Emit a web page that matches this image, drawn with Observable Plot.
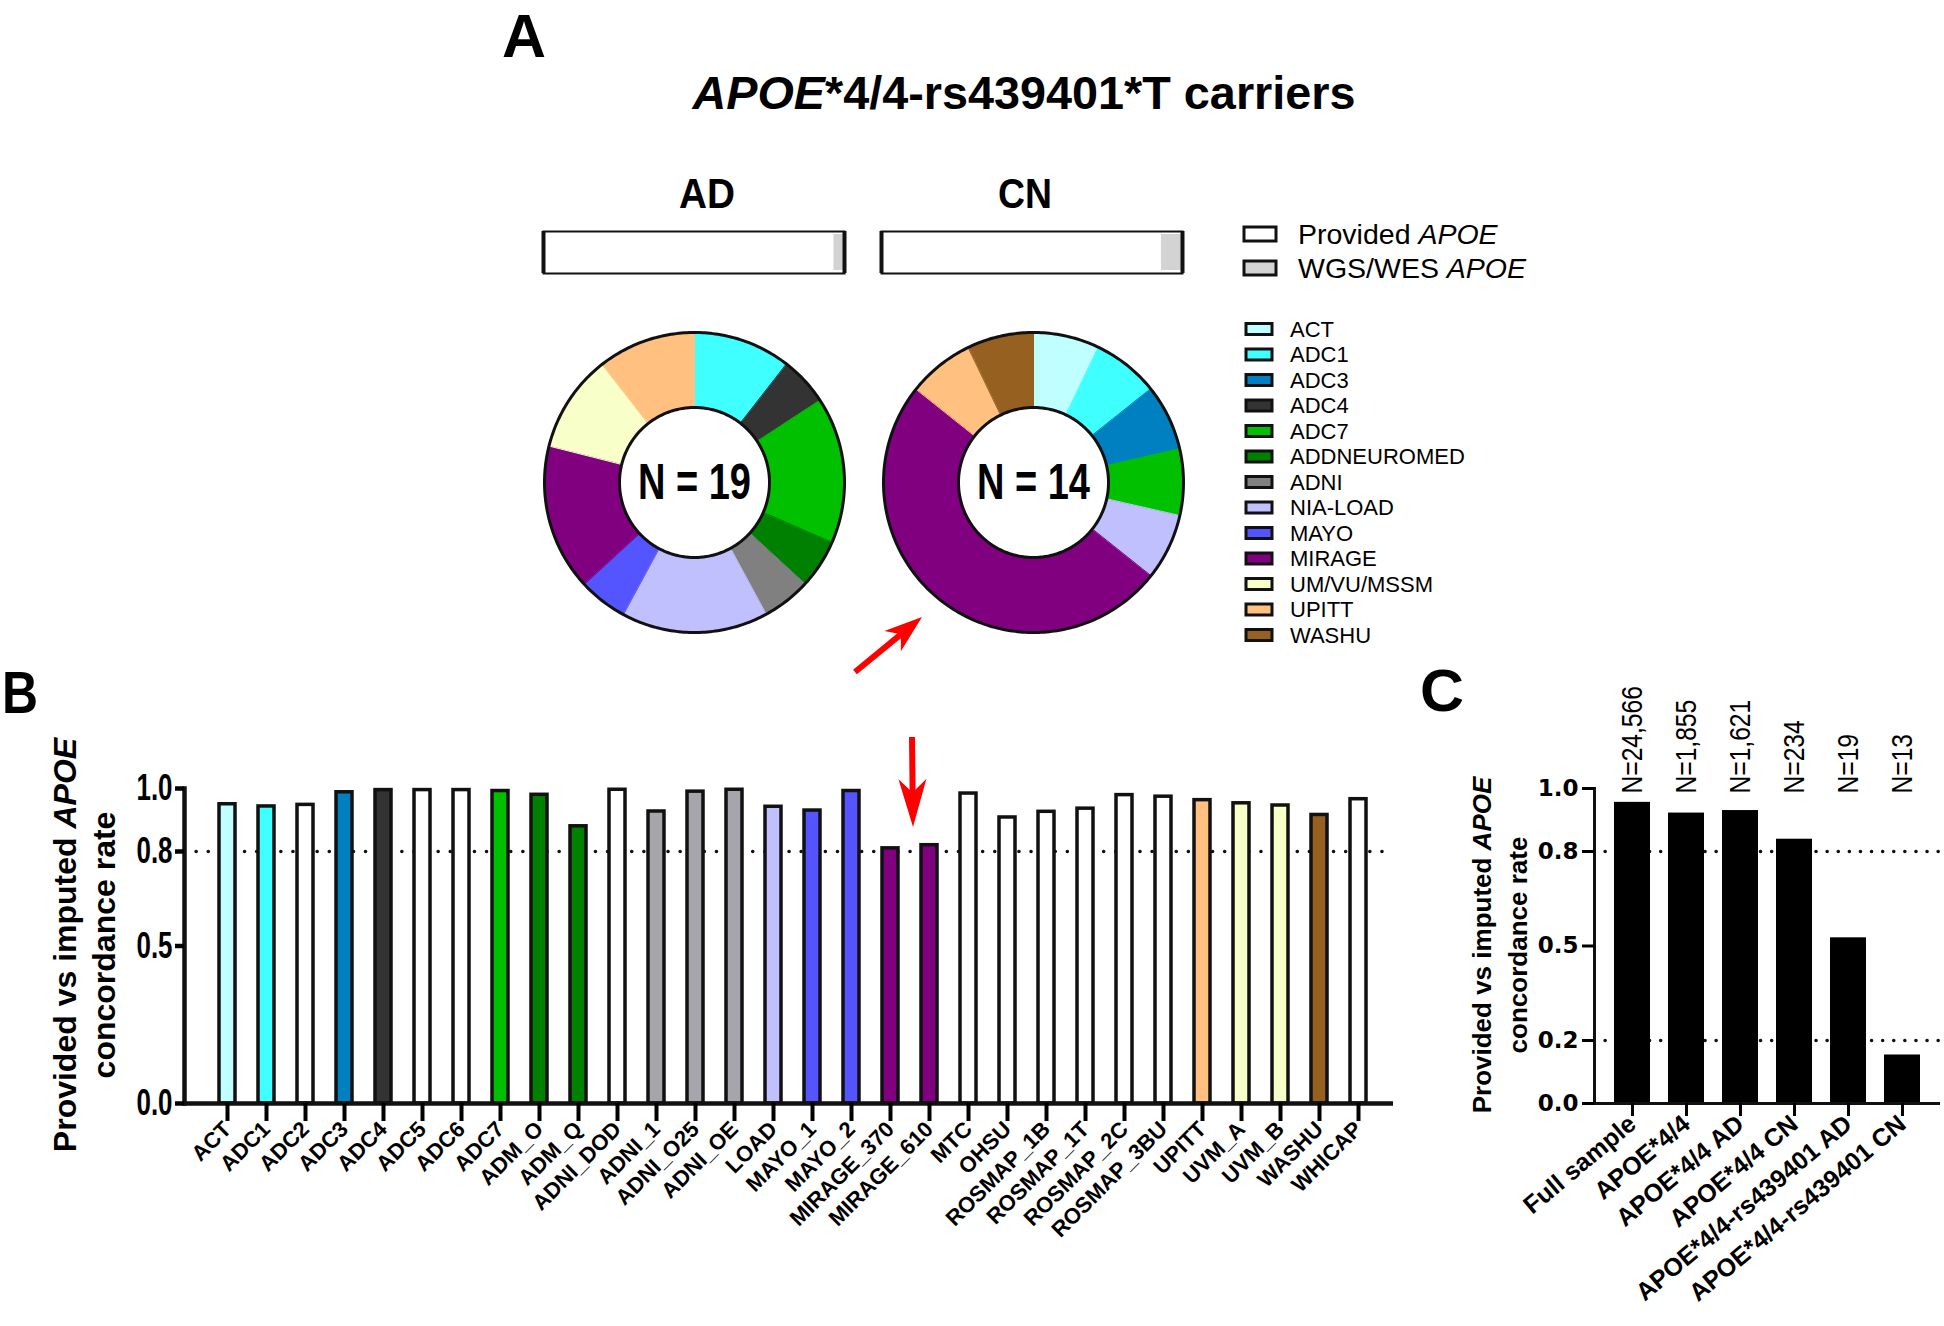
<!DOCTYPE html>
<html><head><meta charset="utf-8">
<script src="https://cdn.jsdelivr.net/npm/d3@7"></script>
<script src="https://cdn.jsdelivr.net/npm/@observablehq/plot@0.6"></script>
<style>
body{margin:0;background:#fff;}
#root{position:relative;width:1944px;height:1326px;overflow:hidden;background:#fff;font-family:"Liberation Sans",Arial,sans-serif;}
</style></head><body><div id="root"></div><script>
// ---------------- data ----------------
const cohorts = ["ACT","ADC1","ADC3","ADC4","ADC7","ADDNEUROMED","ADNI","NIA-LOAD","MAYO","MIRAGE","UM/VU/MSSM","UPITT","WASHU"];
const cohortColors = ["#c0ffff","#40ffff","#0080c0","#333333","#00c000","#008000","#808080","#c0c0ff","#5555ff","#800080","#f8ffc8","#ffc080","#956020"];
const adCounts = [0,2,0,1,3,1,1,3,1,3,2,2,0];
const cnCounts = [1,1,1,0,1,0,0,1,0,7,0,1,1];
const adN = "N = 19";
const cnN = "N = 14";

const sourceLabels = ["Provided APOE","WGS/WES APOE"];
const sourceColors = ["#ffffff","#d3d3d3"];
const adSourceShare = [0.965,0.035];
const cnSourceShare = [0.93,0.07];

const datasets = ["ACT","ADC1","ADC2","ADC3","ADC4","ADC5","ADC6","ADC7","ADM_O","ADM_Q","ADNI_DOD","ADNI_1","ADNI_O25","ADNI_OE","LOAD","MAYO_1","MAYO_2","MIRAGE_370","MIRAGE_610","MTC","OHSU","ROSMAP_1B","ROSMAP_1T","ROSMAP_2C","ROSMAP_3BU","UPITT","UVM_A","UVM_B","WASHU","WHICAP"];
const datasetRates = [0.950,0.943,0.948,0.988,0.995,0.995,0.995,0.992,0.980,0.880,0.996,0.927,0.990,0.996,0.942,0.930,0.992,0.810,0.820,0.984,0.908,0.926,0.936,0.979,0.974,0.963,0.953,0.946,0.916,0.966];
const datasetCohort = ["ACT","ADC1","none","ADC3","ADC4","none","none","ADC7","ADDNEUROMED","ADDNEUROMED","none","ADNI","ADNI","ADNI","NIA-LOAD","MAYO","MAYO","MIRAGE","MIRAGE","none","none","none","none","none","none","UPITT","UM/VU/MSSM","UM/VU/MSSM","WASHU","none"];
const bTicks = [0, 0.5, 0.8, 1.0];

const groups = ["Full sample","APOE*4/4","APOE*4/4 AD","APOE*4/4 CN","APOE*4/4-rs439401 AD","APOE*4/4-rs439401 CN"];
const groupRates = [0.956,0.922,0.930,0.839,0.526,0.154];
const groupN = ["N=24,566","N=1,855","N=1,621","N=234","N=19","N=13"];
const cTicks = [0, 0.2, 0.5, 0.8, 1.0];
const thresholds = [0.2, 0.8];

// ---------------- helpers ----------------
const SANS = '"Liberation Sans",Arial,sans-serif';
const root = document.getElementById("root");
function place(node, left, top){
  node.style.position = "absolute";
  node.style.left = left + "px";
  node.style.top = top + "px";
  root.appendChild(node);
  return node;
}
// horizontally condense text (emulates a narrow font face)
function condense(node, selector, factor){
  d3.select(node).selectAll(selector).each(function(){
    const w = this.getComputedTextLength();
    if (w > 0){ this.setAttribute("textLength", (w*factor).toFixed(1)); this.setAttribute("lengthAdjust","spacingAndGlyphs"); }
  });
}

// ---------------- source bars (AD / CN) ----------------
function sourceBar(shares){
  const data = sourceLabels.map((s,i)=>({source:s, share:shares[i]}));
  return Plot.plot({
    width: 311, height: 52, margin: 5,
    style: {background:"transparent", overflow:"visible"},
    x: {domain:[0,1], axis:null},
    color: {domain: sourceLabels, range: sourceColors},
    marks: [
      Plot.barX(data, {x:"share", fill:"source", insetTop:3, insetBottom:3}),
      Plot.frame({stroke:"#111", strokeWidth:2}),
      Plot.ruleX([0,1], {stroke:"#111", strokeWidth:4})
    ]
  });
}
place(sourceBar(adSourceShare), 538, 226);
place(sourceBar(cnSourceShare), 876, 226);

// ---------------- donuts ----------------
function donut(counts, label){
  const total = d3.sum(counts);
  const pts = [];
  let acc = 0;
  cohorts.forEach((c,i)=>{
    const n = counts[i]; if(!n) return;
    const a0 = acc/total*2*Math.PI, a1 = (acc+n)/total*2*Math.PI; acc += n;
    const steps = Math.max(8, Math.ceil((a1-a0)/0.02));
    for(let k=0;k<=steps;k++){const a=a0+(a1-a0)*k/steps; pts.push({cohort:c,x:Math.sin(a),y:Math.cos(a)});}
    for(let k=steps;k>=0;k--){const a=a0+(a1-a0)*k/steps; pts.push({cohort:c,x:0.5*Math.sin(a),y:0.5*Math.cos(a)});}
  });
  const rings = [];
  [1,0.5].forEach(r=>{ for(let k=0;k<360;k++){const a=k/360*2*Math.PI; rings.push({ring:r,x:r*Math.sin(a),y:r*Math.cos(a)});} });
  return Plot.plot({
    width: 310, height: 310, margin: 5,
    style: {background:"transparent", overflow:"visible"},
    x: {domain:[-1,1], axis:null},
    y: {domain:[-1,1], axis:null},
    color: {domain: cohorts, range: cohortColors},
    marks: [
      Plot.line(pts, {x:"x", y:"y", z:"cohort", fill:"cohort", stroke:"cohort", strokeWidth:1, curve:"linear-closed"}),
      Plot.line(rings, {x:"x", y:"y", z:"ring", stroke:"#111", strokeWidth:3, curve:"linear-closed"}),
      Plot.text([label], {x:()=>0, y:()=>0, text:d=>d, fontSize:50, fontWeight:"bold", fontFamily:SANS, fill:"#000"})
    ]
  });
}
[[adCounts, adN, 539],[cnCounts, cnN, 878]].forEach(([c,n,left])=>{
  const d = place(donut(c, n), left, 327);
  condense(d, 'g[aria-label="text"] text', 0.76);
});

// ---------------- panel B ----------------
const bData = datasets.map((d,i)=>({name:d, rate:datasetRates[i], cohort:datasetCohort[i]}));
const bPalette = cohortColors.map((c,i)=> cohorts[i]==="ADNI" ? "#a5a5ab" : c);
const bPlot = Plot.plot({
  width: 1420, height: 626, marginLeft: 184, marginRight: 27, marginTop: 88, marginBottom: 223,
  style: {background:"transparent", overflow:"visible", fontFamily: SANS},
  x: {domain: datasets, paddingInner: 0.592, paddingOuter: 0.716, align: 0.57, label: null},
  y: {domain: [0,1], label: null},
  color: {domain: [...cohorts, "none"], range: [...bPalette, "#ffffff"]},
  marks: [
    Plot.ruleY([0.8], {stroke:"#111", strokeWidth:3.5, strokeDasharray:"0.1 12", strokeLinecap:"round"}),
    Plot.barY(bData, {x:"name", y:"rate", fill:"cohort", stroke:"#111", strokeWidth:3.5}),
    Plot.frame({anchor:"left", stroke:"#111", strokeWidth:4.5}),
    Plot.ruleY([0], {stroke:"#111", strokeWidth:4.5}),
    Plot.axisY({ticks: bTicks, tickFormat: d3.format(".1f"), tickSize: 9, tickPadding: 3, fontSize: 36, fontWeight:"bold", fontFamily: SANS, strokeWidth: 4.5, label: null}),
    Plot.axisX({tickSize: 18, tickRotate: -45, fontSize: 22, fontWeight:"bold", strokeWidth: 4, tickPadding: 4, label: null})
  ]
});
place(bPlot, 0, 700);
condense(bPlot, 'g[aria-label="y-axis tick label"] text', 0.72);

// ---------------- panel C ----------------
const cData = groups.map((g,i)=>({group:g, rate:groupRates[i], n:groupN[i]}));
const cPlot = Plot.plot({
  width: 524, height: 626, marginLeft: 174, marginRight: 4, marginTop: 88, marginBottom: 223,
  style: {background:"transparent", overflow:"visible", fontFamily: SANS},
  x: {domain: groups, paddingInner: 0.336, paddingOuter: 0.36, align: 0.5, label: null},
  y: {domain: [0,1], label: null},
  marks: [
    Plot.ruleY(thresholds, {stroke:"#111", strokeWidth:3.5, strokeDasharray:"0.1 11", strokeLinecap:"round"}),
    Plot.barY(cData, {x:"group", y:"rate", fill:"#000"}),
    Plot.text(cData, {x:"group", y:()=>1, text:"n", rotate:-90, textAnchor:"start", dy:5, fontSize:30, fontFamily: SANS, fill:"#000"}),
    Plot.frame({anchor:"left", stroke:"#111", strokeWidth:3}),
    Plot.ruleY([0], {stroke:"#111", strokeWidth:3}),
    Plot.axisY({ticks: cTicks, tickFormat: d3.format(".1f"), tickSize: 12, tickPadding: 4, fontSize: 23, fontWeight:"bold", fontFamily:'"DejaVu Sans",sans-serif', strokeWidth: 3, label: null}),
    Plot.axisX({tickSize: 13, tickRotate: -40, fontSize: 25, fontWeight:"bold", strokeWidth: 3, tickPadding: 4, label: null})
  ]
});
place(cPlot, 1420, 700);
condense(cPlot, 'g[aria-label="text"] text', 0.82);

// ---------------- annotations overlay ----------------
const ov = d3.select(root).append("svg")
  .attr("width",1944).attr("height",1326)
  .style("position","absolute").style("left","0px").style("top","0px").style("pointer-events","none");

function txt(x,y,str,opts={}){
  const t = ov.append("text").attr("x",x).attr("y",y).text(str)
    .attr("font-family", opts.family||SANS).attr("font-size", opts.size||20)
    .attr("font-weight", opts.weight||"normal").attr("text-anchor", opts.anchor||"start").attr("fill","#000");
  if (opts.length) t.attr("textLength", opts.length).attr("lengthAdjust","spacingAndGlyphs");
  return t;
}
// Panel letters
txt(502,57,"A",{size:62,weight:"bold",length:44});
txt(2,713,"B",{size:60,weight:"bold",length:36});
txt(1420,711,"C",{size:60,weight:"bold",length:44});

// Title
const title = ov.append("text").attr("x",1024).attr("y",109).attr("text-anchor","middle")
  .attr("font-family",SANS).attr("font-size",46).attr("font-weight","bold")
  .attr("textLength",663).attr("lengthAdjust","spacingAndGlyphs");
title.append("tspan").attr("font-style","italic").text("APOE");
title.append("tspan").text("*4/4-rs439401*T carriers");

txt(707,208,"AD",{size:43,weight:"bold",anchor:"middle",length:56});
txt(1025,208,"CN",{size:43,weight:"bold",anchor:"middle",length:54});

// Source legend
sourceLabels.forEach((s,i)=>{
  const cy = 234 + i*34;
  ov.append("rect").attr("x",1244).attr("y",cy-7).attr("width",32).attr("height",14)
    .attr("fill",sourceColors[i]).attr("stroke","#111").attr("stroke-width",3);
  const parts = s.split(" ");
  const t = txt(1298, cy+10, "", {size:28.5});
  t.append("tspan").text(parts[0]+" ");
  t.append("tspan").attr("font-style","italic").text(parts[1]);
});

// Cohort legend
cohorts.forEach((c,i)=>{
  const cy = 329 + i*25.5;
  ov.append("rect").attr("x",1246).attr("y",cy-5.5).attr("width",26).attr("height",11)
    .attr("fill",cohortColors[i]).attr("stroke","#111").attr("stroke-width",3);
  txt(1290, cy+7.5, c, {size:22});
});

// Y-axis titles
function ylab(cx, cy, size, first, italic){
  const t = ov.append("text").attr("transform",`translate(${cx},${cy}) rotate(-90)`)
    .attr("text-anchor","middle").attr("dy","0.35em")
    .attr("font-family",SANS).attr("font-size",size).attr("font-weight","bold");
  t.append("tspan").text(first);
  if(italic) t.append("tspan").attr("font-style","italic").text(italic);
}
ylab(65, 945, 32, "Provided vs imputed ", "APOE");
ylab(104, 945, 32, "concordance rate");
ylab(1482, 945, 26, "Provided vs imputed ", "APOE");
ylab(1518, 945, 26, "concordance rate");

// Red arrows
function arrow(x1,y1,x2,y2,hl,hw,sw){
  const dx=x2-x1, dy=y2-y1, L=Math.hypot(dx,dy), ux=dx/L, uy=dy/L, px=-uy, py=ux;
  ov.append("line").attr("x1",x1).attr("y1",y1).attr("x2",x2-ux*hl*0.7).attr("y2",y2-uy*hl*0.7)
    .attr("stroke","#ff0000").attr("stroke-width",sw);
  const bx=x2-ux*hl, by=y2-uy*hl;
  ov.append("path").attr("d",`M${x2},${y2} L${bx+px*hw},${by+py*hw} L${x2-ux*hl*0.72},${y2-uy*hl*0.72} L${bx-px*hw},${by-py*hw} Z`)
    .attr("fill","#ff0000");
}
arrow(855,672,922,617,38,13,6);
arrow(912,737,913,827,48,14,6);
</script></body></html>
